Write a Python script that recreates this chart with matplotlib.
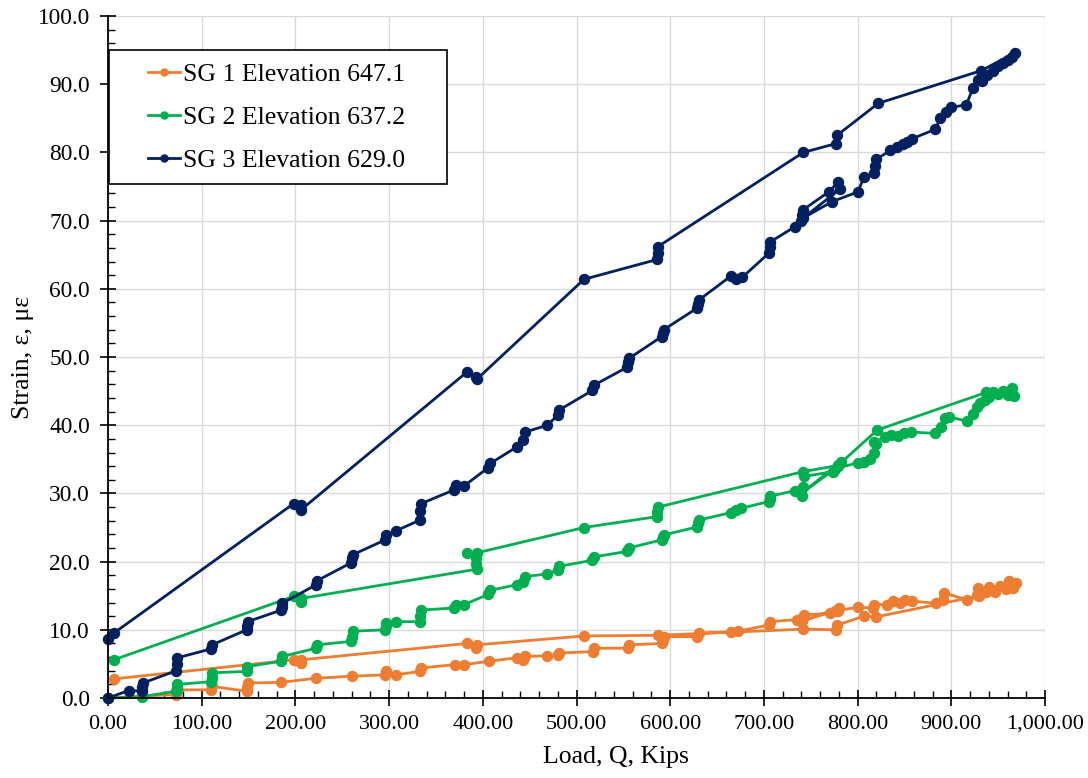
import matplotlib
matplotlib.use("Agg")
import matplotlib.pyplot as plt
from matplotlib.ticker import MultipleLocator, FuncFormatter
from matplotlib.legend_handler import HandlerLine2D
import numpy as np

plt.rcParams['font.family'] = ['Liberation Serif', 'DejaVu Serif']

# SG 1 Elevation 647.1 (load in kips, strain in microstrain)
load_sg1 = [
    0, 36, 73, 74, 74, 110, 111, 148, 148, 149,
    185, 222, 260, 296, 297, 307, 333, 334, 370, 380,
    407, 436, 443, 445, 469, 480, 481, 518, 519, 555,
    556, 591, 592, 593, 629, 631, 665, 672, 705, 707,
    735, 742, 743, 770, 779, 780, 741, 776, 800, 816,
    817, 831, 838, 845, 851, 858, 884, 891, 892, 917,
    927, 928, 937, 940, 947, 952, 958, 962, 966, 969,
    930, 820, 807, 778, 777, 742, 587, 508, 394, 393,
    383, 206, 206, 198, 6,
]
strain_sg1 = [
    0.0, 0.3, 0.5, 0.9, 1.2, 1.2, 1.7, 1.0, 1.6, 2.2,
    2.3, 2.9, 3.2, 3.4, 3.9, 3.4, 3.9, 4.4, 4.9, 4.9,
    5.4, 5.9, 5.6, 6.1, 6.2, 6.3, 6.6, 6.8, 7.3, 7.3,
    7.8, 8.0, 8.5, 9.0, 9.0, 9.5, 9.7, 9.8, 10.7, 11.2,
    11.5, 11.9, 12.2, 12.4, 12.7, 13.2, 11.3, 12.8, 13.3, 13.2,
    13.7, 13.7, 14.2, 14.0, 14.4, 14.2, 13.9, 14.4, 15.4, 14.4,
    15.1, 16.1, 15.6, 16.3, 15.6, 16.4, 16.0, 17.1, 16.2, 16.8,
    15.0, 11.9, 12.0, 10.7, 10.0, 10.1, 9.2, 9.1, 7.8, 7.3,
    8.0, 5.6, 5.1, 5.6, 2.8,
]

# SG 2 Elevation 637.2
load_sg2 = [
    0, 36, 73, 74, 74, 110, 111, 111, 148, 148,
    185, 186, 222, 223, 259, 260, 261, 296, 297, 297,
    307, 333, 333, 334, 369, 371, 380, 406, 408, 436,
    443, 445, 469, 480, 481, 517, 519, 554, 556, 591,
    592, 593, 629, 630, 631, 665, 670, 675, 705, 706,
    707, 733, 741, 742, 743, 774, 779, 782, 740, 776,
    800, 807, 813, 818, 820, 818, 829, 836, 843, 850,
    857, 883, 889, 893, 898, 917, 923, 927, 931, 936,
    940, 945, 950, 955, 960, 965, 967,
    937, 821, 779, 742, 587, 586, 586, 508, 394, 383,
    393, 393, 394, 206, 206, 198, 6,
]
strain_sg2 = [
    0.0, 0.2, 1.0, 1.5, 2.0, 2.4, 3.0, 3.7, 3.9, 4.6,
    5.4, 6.1, 7.3, 7.8, 8.3, 9.0, 9.8, 10.0, 10.6, 11.0,
    11.2, 11.2, 12.0, 12.9, 13.2, 13.7, 13.7, 15.2, 15.8, 16.6,
    17.0, 17.8, 18.2, 18.8, 19.3, 20.2, 20.7, 21.5, 22.0, 23.2,
    23.6, 23.9, 25.1, 25.6, 26.1, 27.2, 27.6, 27.8, 28.8, 29.2,
    29.6, 30.4, 29.6, 31.0, 32.5, 33.2, 34.0, 34.6, 30.0, 33.6,
    34.5, 34.6, 35.0, 36.0, 37.2, 37.6, 38.2, 38.6, 38.4, 38.9,
    39.0, 38.8, 39.8, 41.0, 41.2, 40.6, 41.6, 42.6, 43.2, 43.7,
    44.2, 44.8, 44.6, 45.0, 44.4, 45.4, 44.3,
    44.8, 39.3, 34.1, 33.2, 28.0, 27.3, 26.6, 25.0, 21.3, 21.2,
    20.5, 19.6, 18.9, 14.6, 14.1, 14.9, 5.6,
]

# SG 3 Elevation 629.0
load_sg3 = [
    0, 22, 36, 36, 37, 73, 74, 74, 110, 111,
    148, 148, 149, 185, 186, 186, 222, 223, 259, 260,
    261, 296, 297, 307, 333, 333, 334, 369, 371, 380,
    406, 408, 436, 443, 445, 469, 480, 481, 517, 519,
    554, 555, 556, 591, 592, 593, 629, 630, 631, 665,
    670, 677, 705, 706, 707, 733, 740, 741, 742, 769,
    779, 781, 742, 773, 800, 807, 818, 819, 820, 835,
    842, 848, 853, 858, 883, 888, 894, 900, 916, 923,
    928, 933, 938, 944, 950, 955, 960, 965, 968,
    932, 822, 778, 777, 742, 587, 587, 586, 508, 394,
    393, 383, 206, 206, 198, 6, 0,
]
strain_sg3 = [
    0.0, 1.1, 1.0, 1.6, 2.2, 4.0, 5.0, 5.9, 7.2, 7.8,
    10.0, 10.6, 11.2, 12.9, 13.4, 13.9, 16.6, 17.2, 19.8, 20.5,
    21.0, 23.2, 23.9, 24.5, 26.1, 27.4, 28.5, 30.5, 31.2, 31.1,
    33.8, 34.4, 36.8, 37.8, 39.0, 40.0, 41.5, 42.2, 45.1, 45.9,
    48.5, 49.2, 49.8, 53.0, 53.5, 54.0, 57.2, 57.8, 58.4, 61.9,
    61.5, 61.7, 65.2, 66.1, 66.9, 69.1, 70.0, 70.8, 71.6, 74.2,
    75.6, 74.6, 70.4, 72.8, 74.2, 76.4, 77.0, 78.0, 79.0, 80.3,
    80.8, 81.2, 81.6, 82.0, 83.4, 85.0, 86.0, 86.6, 87.0, 89.4,
    90.6, 90.4, 91.3, 92.0, 92.6, 93.1, 93.5, 94.0, 94.6,
    92.0, 87.2, 82.5, 81.3, 80.0, 66.2, 65.3, 64.3, 61.4, 46.8,
    47.1, 47.8, 27.6, 28.3, 28.5, 9.5, 8.6,
]

labels = ["SG 1 Elevation 647.1", "SG 2 Elevation 637.2", "SG 3 Elevation 629.0"]
colors = ["#ED7D31", "#00B050", "#002060"]


class OffsetLineHandler(HandlerLine2D):
    # leaves blank room on the left of the legend key, like the Excel legend
    def __init__(self, blank=0.45, **kw):
        super().__init__(**kw)
        self.blank = blank

    def get_xdata(self, legend, xdescent, ydescent, width, height, fontsize):
        x0 = -xdescent + self.blank * width
        x1 = -xdescent + width
        return np.array([x0, x1]), np.array([(x0 + x1) / 2])


fig, ax = plt.subplots(figsize=(10.88, 7.78), dpi=100)
fig.subplots_adjust(left=0.0993, right=0.9605, bottom=0.1028, top=0.9794)

series = [(load_sg1, strain_sg1), (load_sg2, strain_sg2), (load_sg3, strain_sg3)]
handles = []
for (x, y), lab, c in zip(series, labels, colors):
    ln, = ax.plot(x, y, color=c, lw=2.0, marker="o", markersize=7.2, label=lab, clip_on=False)
    handles.append(ln)

ax.set_xlim(0, 1000)
ax.set_ylim(0, 100)
ax.xaxis.set_major_locator(MultipleLocator(100))
ax.xaxis.set_minor_locator(MultipleLocator(20))
ax.yaxis.set_major_locator(MultipleLocator(10))
ax.yaxis.set_minor_locator(MultipleLocator(2))
ax.xaxis.set_major_formatter(FuncFormatter(lambda v, p: f"{v:,.2f}"))
ax.yaxis.set_major_formatter(FuncFormatter(lambda v, p: f"{v:.1f}"))

ax.tick_params(which="major", direction="inout", length=12, width=1.2, labelsize=16)
ax.tick_params(axis="x", which="major", pad=6)
ax.tick_params(axis="y", which="major", pad=7, labelsize=16.8)
ax.tick_params(which="minor", direction="in", length=5, width=1.0)
ax.grid(which="major", color="#D9D9D9", lw=1.0)
ax.set_axisbelow(True)
for s in ["top", "right"]:
    ax.spines[s].set_visible(False)
for s in ["left", "bottom"]:
    ax.spines[s].set_linewidth(1.3)

ax.set_xlabel("Load, Q, Kips", fontsize=18.5)
ax.xaxis.set_label_coords(0.542, -0.070)
ax.set_ylabel("Strain, ε, με", fontsize=18.5)
ax.yaxis.set_label_coords(-0.079, 0.5)

leg = ax.legend(handles=handles, loc="upper left", mode="expand",
                bbox_to_anchor=(0.001, 0.950, 0.3607, 0.0), borderaxespad=0,
                fontsize=18.5, fancybox=False, edgecolor="black", framealpha=1,
                handlelength=2.28, handletextpad=0.12, labelspacing=0.77,
                borderpad=0.5, markerscale=0.7,
                handler_map={h: OffsetLineHandler(blank=0.45) for h in handles})
leg.get_frame().set_linewidth(1.2)

fig.savefig("out.png", dpi=100)
